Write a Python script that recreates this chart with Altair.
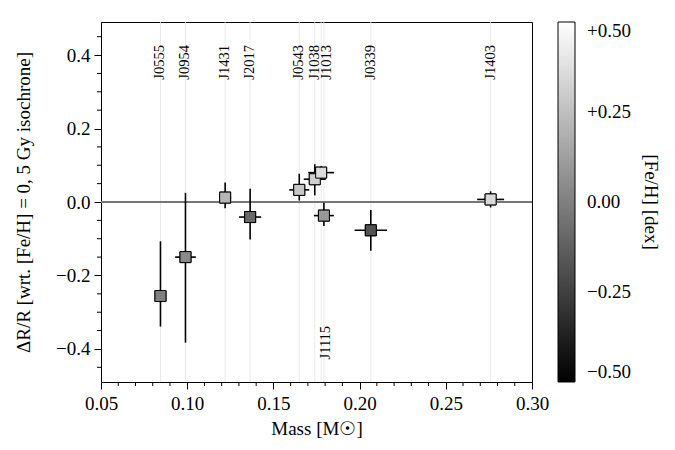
import altair as alt
import pandas as pd

names = ["J0555", "J0954", "J1431", "J2017", "J0543", "J1038", "J1013", "J1115", "J0339", "J1403"]
mass = [0.0845, 0.0990, 0.1220, 0.1365, 0.1650, 0.1740, 0.1777, 0.1793, 0.2065, 0.2760]
mass_err = [0.0030, 0.0060, 0.0035, 0.0064, 0.0058, 0.0064, 0.0075, 0.0058, 0.0094, 0.0078]
dR = [-0.256, -0.150, 0.012, -0.041, 0.033, 0.062, 0.080, -0.037, -0.077, 0.007]
dR_lo = [-0.339, -0.383, -0.017, -0.102, 0.004, 0.018, 0.062, -0.065, -0.133, -0.015]
dR_hi = [-0.107, 0.025, 0.053, 0.036, 0.077, 0.103, 0.098, -0.002, -0.022, 0.029]
feh = [0.00, 0.04, 0.21, -0.09, 0.28, 0.31, 0.36, 0.10, -0.18, 0.35]

x_major = [0.05, 0.10, 0.15, 0.20, 0.25, 0.30]
x_minor = [round(0.05 + 0.01 * i, 2) for i in range(26) if i % 5 != 0]
y_major = [-0.4, -0.2, 0.0, 0.2, 0.4]
y_minor = [-0.45, -0.35, -0.3, -0.25, -0.15, -0.1, -0.05, 0.05, 0.1, 0.15, 0.25, 0.3, 0.35, 0.45]
cbar_ticks = [-0.5, -0.25, 0.0, 0.25, 0.5]

df = pd.DataFrame({
    "name": names, "mass": mass,
    "mlo": [m - e for m, e in zip(mass, mass_err)],
    "mhi": [m + e for m, e in zip(mass, mass_err)],
    "dR": dR, "lo": dR_lo, "hi": dR_hi, "feh": feh,
})
xminor_df = pd.DataFrame({"v": x_minor})
yminor_df = pd.DataFrame({"v": y_minor})

FONT = "Liberation Serif"
xscale = alt.Scale(domain=[0.05, 0.30], nice=False, zero=False)
yscale = alt.Scale(domain=[-0.49, 0.49], nice=False, zero=False)

xaxis = alt.Axis(
    title="Mass [M☉]", values=x_major, grid=False, tickSize=7, format=".2f",
    labelFlush=False, labelOverlap=False, labelPadding=5, titlePadding=6,
)
yaxis = alt.Axis(
    title="ΔR/R [wrt. [Fe/H] = 0, 5 Gy isochrone]", values=y_major, grid=False, tickSize=7,
    labelExpr="replace(format(datum.value, '.1f'), '-', '\u2212')",
    labelFlush=False, labelOverlap=False, labelPadding=4, titlePadding=22,
)

base = alt.Chart(df)

pts = base.mark_square(size=121, stroke="black", strokeWidth=1, opacity=1).encode(
    x=alt.X("mass:Q", scale=xscale, axis=xaxis),
    y=alt.Y("dR:Q", scale=yscale, axis=yaxis),
    fill=alt.Fill(
        "feh:Q",
        scale=alt.Scale(domain=[-0.5, 0.5], range=["#000000", "#ffffff"], interpolate="rgb"),
        legend=alt.Legend(
            title=None, orient="right", direction="vertical", offset=26,
            gradientLength=360, gradientThickness=17, values=cbar_ticks,
            gradientStrokeColor="black", gradientStrokeWidth=1,
            labelFont=FONT, labelFontSize=19, labelColor="black", labelOffset=12,
            labelBaseline="middle", labelOverlap=False, padding=0,
            labelExpr="datum.value > 0 ? '+' + format(datum.value, '.2f') : datum.value < 0 ? '\u2212' + format(-datum.value, '.2f') : '0.00'",
        ),
    ),
)
vlines = base.mark_rule(color="#e4e4e4", strokeWidth=0.8).encode(x="mass:Q")
zero = base.mark_rule(color="#777777", strokeWidth=1).encode(y=alt.datum(0))
xerr = base.mark_rule(color="black", strokeWidth=1.6).encode(x="mlo:Q", x2="mhi:Q", y="dR:Q")
yerr = base.mark_rule(color="black", strokeWidth=1.6).encode(x="mass:Q", y="lo:Q", y2="hi:Q")

label_style = dict(angle=270, align="center", baseline="middle", font=FONT, fontSize=14.5, color="black")
top_labels = base.transform_filter(
    "datum.name != 'J1115' && datum.name != 'J1013'"
).mark_text(**label_style).encode(x="mass:Q", y=alt.datum(0.38), text="name:N")
j1013_label = base.transform_filter("datum.name == 'J1013'").mark_text(
    dy=6, **label_style
).encode(x="mass:Q", y=alt.datum(0.38), text="name:N")
bot_labels = base.transform_filter("datum.name == 'J1115'").mark_text(
    dy=2, **label_style
).encode(x="mass:Q", y=alt.datum(-0.383), text="name:N")

xminor = alt.Chart(xminor_df).mark_rule(color="black", strokeWidth=1).encode(
    x="v:Q", y=alt.value(360), y2=alt.value(364)
)
yminor = alt.Chart(yminor_df).mark_rule(color="black", strokeWidth=1).encode(
    y="v:Q", x=alt.value(-4), x2=alt.value(0)
)

cbar_title = alt.Chart(pd.DataFrame({"t": ["[Fe/H] [dex]"]})).mark_text(
    angle=90, align="center", baseline="middle", font=FONT, fontSize=19, color="black"
).encode(x=alt.value(550), y=alt.value(180), text="t:N")

chart = alt.layer(pts, vlines, zero, xerr, yerr, pts, top_labels, j1013_label, bot_labels,
                  xminor, yminor, cbar_title).properties(
    width=431, height=360,
    autosize=alt.AutoSizeParams(type="none"),
    padding={"left": 101, "top": 22, "right": 143, "bottom": 68},
    background="white",
).configure_view(
    stroke="black", strokeWidth=1
).configure_axis(
    domainColor="black", domainWidth=1, tickColor="black", tickWidth=1,
    labelFont=FONT, labelFontSize=19, labelColor="black",
    titleFont=FONT, titleFontSize=19, titleColor="black", titleFontWeight="normal",
)

chart.save("out.html", embed_options={"renderer": "svg", "actions": False})
